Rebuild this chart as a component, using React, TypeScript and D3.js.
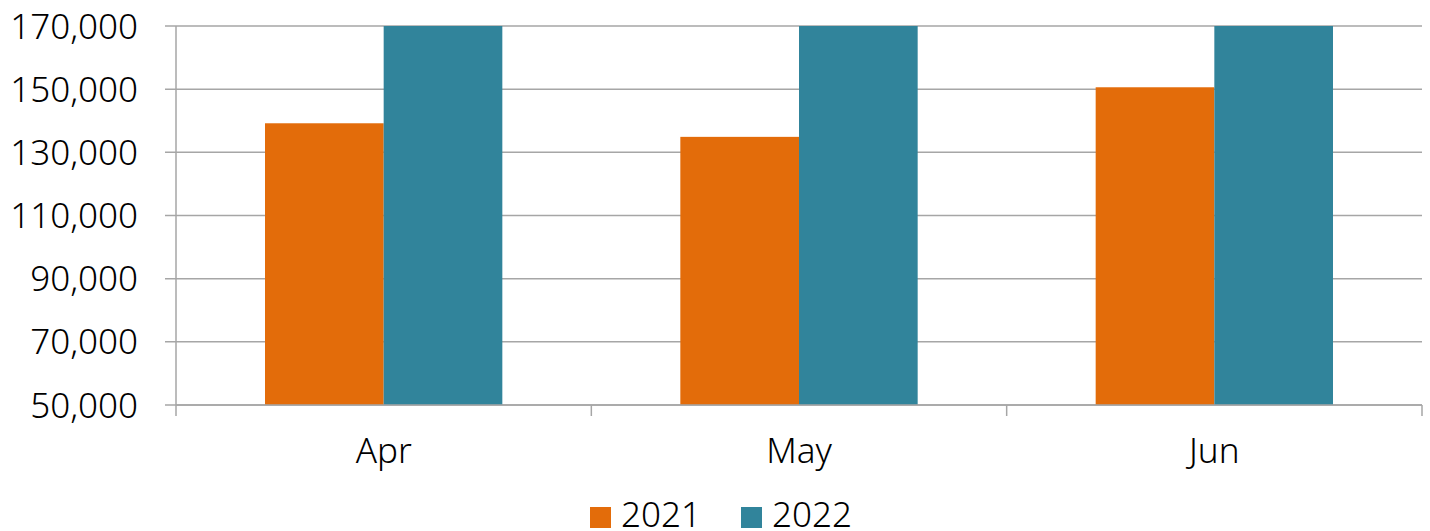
import { useEffect, useRef } from "react";
import * as d3 from "d3";

// chart data
const months = ["Apr", "May", "Jun"];
const seriesNames = ["2021", "2022"];
const values2021 = [139200, 134900, 150600];
const values2022 = [178000, 182000, 186000]; // above the axis max, clipped at top
const yTicks = [50000, 70000, 90000, 110000, 130000, 150000, 170000];
const colors = ["#E36C0A", "#31849B"];

const Chart = () => {
  const chartRef = useRef(null);

  useEffect(() => {
    document.body.style.margin = "0"; // page origin = picture origin
    d3.select(chartRef.current).select("svg").remove();

    const W = 1430;
    const H = 531;
    const margin = { top: 26, right: 8, bottom: 126, left: 176 };
    const width = 1422 - margin.left;
    const height = 405 - margin.top;
    const font = "'Noto Sans', 'Open Sans', sans-serif";
    const weight = 300; // thin-looking labels

    const root = d3
      .select(chartRef.current)
      .append("svg")
      .attr("width", W)
      .attr("height", H)
      .style("display", "block");

    const svg = root
      .append("g")
      .attr("transform", `translate(${margin.left}, ${margin.top})`);

    const x0 = d3
      .scaleBand()
      .domain(months)
      .range([0, width])
      .paddingInner(3 / 7)
      .paddingOuter(1.5 / 7);
    const x1 = d3
      .scaleBand()
      .domain(seriesNames)
      .range([0, x0.bandwidth()]);
    const y = d3.scaleLinear().domain([50000, 170000]).range([height, 0]);

    // clip so bars stop at the top of the axis
    root
      .append("defs")
      .append("clipPath")
      .attr("id", "plot-clip")
      .append("rect")
      .attr("width", width)
      .attr("height", height);

    // gridlines + y tick marks
    svg
      .selectAll(".grid")
      .data(yTicks)
      .join("line")
      .attr("x1", -11)
      .attr("x2", width)
      .attr("y1", (d) => y(d))
      .attr("y2", (d) => y(d))
      .attr("stroke", "#a6a6a6")
      .attr("stroke-width", 1.5);

    // y labels
    svg
      .selectAll(".ylab")
      .data(yTicks)
      .join("text")
      .attr("x", -38)
      .attr("y", (d) => y(d))
      .attr("dy", "0.36em")
      .attr("text-anchor", "end")
      .attr("font-family", font)
      .attr("font-weight", weight)
      .attr("font-size", "35px")
      .attr("fill", "#000")
      .text((d) => d3.format(",")(d));

    // bars
    const rows = months.map((m, i) => ({
      month: m,
      vals: [values2021[i], values2022[i]],
    }));
    svg
      .append("g")
      .attr("clip-path", "url(#plot-clip)")
      .selectAll("g")
      .data(rows)
      .join("g")
      .attr("transform", (d) => `translate(${x0(d.month)}, 0)`)
      .selectAll("rect")
      .data((d) => d.vals.map((v, j) => ({ key: seriesNames[j], v, j })))
      .join("rect")
      .attr("x", (d) => x1(d.key) as number)
      .attr("width", x1.bandwidth())
      .attr("y", (d) => y(d.v))
      .attr("height", (d) => height - y(d.v))
      .attr("fill", (d) => colors[d.j]);

    // y axis line
    svg
      .append("line")
      .attr("x1", 0)
      .attr("x2", 0)
      .attr("y1", 0)
      .attr("y2", height)
      .attr("stroke", "#a6a6a6")
      .attr("stroke-width", 1.5);

    // x axis line and category boundary ticks
    svg
      .append("line")
      .attr("x1", 0)
      .attr("x2", width)
      .attr("y1", height)
      .attr("y2", height)
      .attr("stroke", "#a6a6a6")
      .attr("stroke-width", 1.5);
    const boundaries = months.map((m) => (x0(m) as number) - (x0.step() * x0.paddingInner()) / 2);
    boundaries.push(width);
    svg
      .selectAll(".xtick")
      .data(boundaries)
      .join("line")
      .attr("x1", (d) => d)
      .attr("x2", (d) => d)
      .attr("y1", height)
      .attr("y2", height + 11)
      .attr("stroke", "#a6a6a6")
      .attr("stroke-width", 1.5);

    // x labels
    svg
      .selectAll(".xlab")
      .data(months)
      .join("text")
      .attr("x", (d) => (x0(d) as number) + x0.bandwidth() / 2)
      .attr("y", 463 - margin.top)
      .attr("text-anchor", "middle")
      .attr("font-family", font)
      .attr("font-weight", weight)
      .attr("font-size", "35px")
      .attr("fill", "#000")
      .text((d) => d);

    // legend
    const legend = root.append("g");
    const legendX = [590, 741];
    seriesNames.forEach((name, i) => {
      legend
        .append("rect")
        .attr("x", legendX[i])
        .attr("y", 507)
        .attr("width", 21)
        .attr("height", 21)
        .attr("fill", colors[i]);
      legend
        .append("text")
        .attr("x", legendX[i] + 31)
        .attr("y", 527)
        .attr("font-family", font)
        .attr("font-weight", weight)
        .attr("font-size", "35px")
        .attr("fill", "#000")
        .text(name);
    });

    return () => {
      d3.select(chartRef.current).select("svg").remove();
    };
  }, []);

  return <div ref={chartRef} style={{ width: 1430, height: 531 }}></div>;
};

export default function App() {
  return <Chart />;
}
